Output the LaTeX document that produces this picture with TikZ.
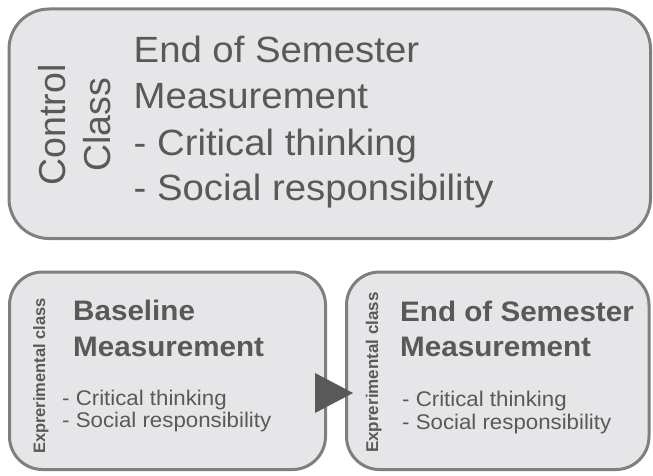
\documentclass[tikz,border=0pt]{standalone}
\usepackage{fontspec}
\setmainfont{Liberation Sans}
\newfontfamily\widefont[FakeStretch=1.05]{Liberation Sans}
\definecolor{txtc}{HTML}{595959}
\definecolor{edgec}{HTML}{7F7F7F}
\definecolor{boxfill}{HTML}{E6E6E8}
\tikzset{
  panel/.style={draw=edgec, fill=boxfill, line width=3pt, inner sep=0pt, outer sep=0pt},
  bigtxt/.style={text=txtc, inner sep=0pt, anchor=base west, font=\widefont\fontsize{36.5}{46}\selectfont},
  sidebig/.style={text=txtc, inner sep=0pt, anchor=base, rotate=90, font=\fontsize{37.5}{46}\selectfont},
  headtxt/.style={text=txtc, inner sep=0pt, anchor=base west, font=\widefont\fontsize{28.2}{34}\selectfont\bfseries},
  itemtxt/.style={text=txtc, inner sep=0pt, anchor=base west, font=\widefont\fontsize{21.2}{24}\selectfont},
  sidesmall/.style={text=txtc, inner sep=0pt, anchor=base, rotate=90, font=\fontsize{16.5}{18}\selectfont\bfseries},
}
\begin{document}
\begin{tikzpicture}[x=1pt,y=1pt]
\useasboundingbox (0,0) rectangle (653,475);
% top panel
\node[panel, minimum width=641.5pt, minimum height=229.5pt, rounded corners=40pt] (ctrl) at (329.75,351.25) {};
\node[sidebig] (control) at (65,350) {Control};
\node[sidebig] (class) at (110,350) {Class};
\node[bigtxt] (t1) at (133.5,412.7) {End of Semester};
\node[bigtxt] (t2) at (133.5,366.7) {Measurement};
\node[bigtxt] (t3) at (133.5,320) {- Critical thinking};
\node[bigtxt] (t4) at (133.5,275) {- Social responsibility};
% bottom left panel
\node[panel, minimum width=316pt, minimum height=197.5pt, rounded corners=33pt] (base) at (167.5,104.25) {};
\node[sidesmall] (exl) at (45,99) {Exprerimental class};
\node[headtxt] (b1) at (73,155) {Baseline};
\node[headtxt] (b2) at (73,118.3) {Measurement};
\node[itemtxt] (b3) at (62,70) {- Critical thinking};
\node[itemtxt] (b4) at (62,48) {- Social responsibility};
% bottom right panel
\node[panel, minimum width=302.5pt, minimum height=197.5pt, rounded corners=33pt] (endm) at (497.75,104.25) {};
\node[sidesmall, font=\fontsize{17}{18}\selectfont\bfseries] (exr) at (378,102.5) {Exprerimental class};
\node[headtxt] (e1) at (400,154) {End of Semester};
\node[headtxt] (e2) at (400,118.3) {Measurement};
\node[itemtxt] (e3) at (402,69) {- Critical thinking};
\node[itemtxt] (e4) at (402,46) {- Social responsibility};
% arrow
\fill[txtc] (315,102) -- (315,62) -- (353,82) -- cycle;
\end{tikzpicture}
\end{document}
